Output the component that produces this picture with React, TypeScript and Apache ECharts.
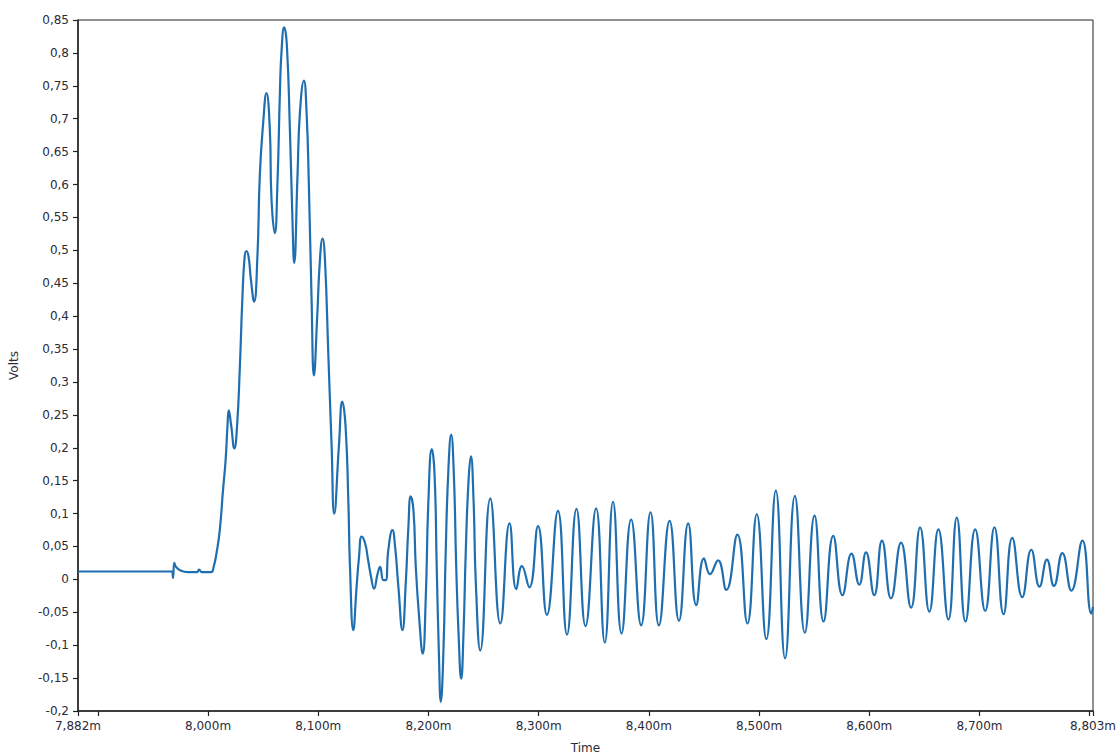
import React, { useEffect, useRef } from "react";
import * as echarts from "echarts";

// Time (m) sample positions
const timeValues: number[] = [
  7.882, 7.9673, 7.9682, 7.9694, 7.9709, 7.9755, 7.9818, 7.99, 7.9918, 7.9945,
  8.0027, 8.0052, 8.0077, 8.0106, 8.0136, 8.0159, 8.0177, 8.0188, 8.0209, 8.0239,
  8.0264, 8.0288, 8.0312, 8.0332, 8.0348, 8.0368, 8.0388, 8.0418, 8.0448, 8.047,
  8.05, 8.053, 8.0561, 8.0575, 8.0606, 8.063, 8.0652, 8.0666, 8.0691, 8.0715,
  8.0743, 8.0764, 8.0782, 8.0812, 8.0834, 8.087, 8.0894, 8.0915, 8.0939, 8.0961,
  8.0991, 8.1015, 8.1039, 8.1061, 8.1091, 8.1121, 8.1145, 8.1188, 8.1218, 8.1248,
  8.1273, 8.1288, 8.1318, 8.1348, 8.137, 8.1394, 8.1425, 8.1448, 8.1479, 8.1506,
  8.1539, 8.1561, 8.1591, 8.1612, 8.1636, 8.1673, 8.1697, 8.1727, 8.1764, 8.1794,
  8.1818, 8.1839, 8.1864, 8.1885, 8.1915, 8.1948, 8.1975, 8.2, 8.203, 8.2055,
  8.2075, 8.2094, 8.2112, 8.2136, 8.2157, 8.2182, 8.2206, 8.223, 8.2252, 8.2273,
  8.2297, 8.2318, 8.2339, 8.2364, 8.2385, 8.2409, 8.243, 8.247,
  8.2561, 8.2652, 8.2736, 8.2797, 8.2848, 8.2915, 8.2994, 8.3075, 8.3175, 8.3257,
  8.3343, 8.3425, 8.3521, 8.36, 8.3675, 8.3752, 8.3839, 8.393, 8.4015, 8.4091,
  8.4188, 8.4273, 8.4357, 8.443, 8.45, 8.4555, 8.4627, 8.4703, 8.4803, 8.4894,
  8.4979, 8.5066, 8.5152, 8.5236, 8.5325, 8.5415, 8.5503, 8.5585, 8.5673, 8.5757,
  8.5839, 8.5909, 8.597, 8.6045, 8.6115, 8.6197, 8.6288, 8.6379, 8.6461, 8.6545,
  8.6627, 8.6718, 8.6794, 8.6873, 8.6961, 8.7052, 8.7136, 8.7218, 8.7297, 8.7388,
  8.747, 8.7545, 8.7612, 8.7675, 8.7752, 8.7834, 8.7934, 8.8015, 8.803,
];

// Volts at each time
const voltValues: number[] = [
  0.012, 0.012, 0.002, 0.025, 0.019, 0.013, 0.011, 0.011, 0.015, 0.011,
  0.011, 0.02, 0.04, 0.074, 0.136, 0.18, 0.235, 0.257, 0.235, 0.199,
  0.235, 0.32, 0.429, 0.49, 0.499, 0.49, 0.457, 0.422, 0.491, 0.615,
  0.693, 0.739, 0.682, 0.581, 0.526, 0.603, 0.739, 0.8, 0.839, 0.812,
  0.682, 0.558, 0.481, 0.615, 0.71, 0.758, 0.71, 0.598, 0.429, 0.31,
  0.401, 0.485, 0.518, 0.485, 0.344, 0.204, 0.1, 0.204, 0.27, 0.232,
  0.119, 0.019, -0.077, -0.011, 0.034, 0.065, 0.055, 0.034, 0.004, -0.014,
  0.009, 0.019, -0.001, -0.001, 0.045, 0.075, 0.05, -0.011, -0.077, -0.006,
  0.08, 0.126, 0.105, 0.019, -0.057, -0.113, -0.031, 0.121, 0.198, 0.161,
  0.019, -0.108, -0.186, -0.108, 0.045, 0.171, 0.22, 0.161, 0.019, -0.082,
  -0.151, -0.082, 0.045, 0.151, 0.187, 0.121, -0.006, -0.108,
  0.123, -0.067, 0.085, -0.015, 0.02, -0.012, 0.081, -0.054, 0.104, -0.084,
  0.107, -0.071, 0.108, -0.096, 0.118, -0.082, 0.091, -0.07, 0.102, -0.07,
  0.089, -0.063, 0.085, -0.039, 0.032, 0.008, 0.029, -0.016, 0.068, -0.067,
  0.099, -0.091, 0.135, -0.12, 0.127, -0.081, 0.097, -0.064, 0.066, -0.024,
  0.039, -0.008, 0.041, -0.024, 0.059, -0.029, 0.056, -0.043, 0.079, -0.049,
  0.076, -0.061, 0.094, -0.064, 0.076, -0.048, 0.079, -0.053, 0.063, -0.027,
  0.045, -0.011, 0.03, -0.01, 0.04, -0.017, 0.059, -0.052, -0.042,
];

const xTickValues: number[] = [7.882, 7.9, 8.0, 8.1, 8.2, 8.3, 8.4, 8.5, 8.6, 8.7, 8.8, 8.803];
const xLabelValues: number[] = [7.882, 8.0, 8.1, 8.2, 8.3, 8.4, 8.5, 8.6, 8.7, 8.803];

const X_MIN = 7.882;
const X_MAX = 8.803;
const Y_MIN = -0.2;
const Y_MAX = 0.85;
const Y_STEP = 0.05;

const FONT = "DejaVu Sans";
const TEXT_COLOR = "#2b2b3a";

export default function App() {
  const ref = useRef<HTMLDivElement>(null);

  useEffect(() => {
    if (!ref.current) return;
    const chart = echarts.init(ref.current, undefined, { renderer: "svg" });
    const data = timeValues.map((t, i) => [t, voltValues[i]]);

    chart.setOption({
      animation: false,
      backgroundColor: "#ffffff",
      grid: {
        left: 78,
        right: 26,
        top: 20,
        bottom: 44,
        outerBoundsMode: "none",
        containLabel: false,
        show: true,
        borderColor: "#222",
        borderWidth: 1,
        backgroundColor: "transparent",
      },
      xAxis: {
        type: "value",
        min: X_MIN,
        max: X_MAX,
        name: "Time",
        nameLocation: "middle",
        nameGap: 31,
        nameTextStyle: { fontFamily: FONT, fontSize: 12, color: TEXT_COLOR },
        splitLine: { show: false },
        axisLine: { show: true, onZero: false, lineStyle: { color: "#222", width: 1.5 } },
        axisTick: {
          show: true,
          length: 5,
          customValues: xTickValues,
          lineStyle: { color: "#222", width: 1.2 },
        },
        axisLabel: {
          customValues: xLabelValues,
          fontFamily: FONT,
          fontSize: 12,
          color: TEXT_COLOR,
          margin: 9,
          formatter: (v: number) => v.toFixed(3).replace(".", ",") + "m",
        },
      },
      yAxis: {
        type: "value",
        min: Y_MIN,
        max: Y_MAX,
        interval: Y_STEP,
        name: "Volts",
        nameLocation: "middle",
        nameRotate: 90,
        nameGap: 58,
        nameTextStyle: { fontFamily: FONT, fontSize: 12, color: TEXT_COLOR },
        splitLine: { show: false },
        axisLine: { show: true, onZero: false, lineStyle: { color: "#222", width: 1.5 } },
        axisTick: { show: true, length: 5, lineStyle: { color: "#222", width: 1.2 } },
        axisLabel: {
          fontFamily: FONT,
          fontSize: 12,
          color: TEXT_COLOR,
          margin: 9,
          formatter: (v: number) => String(Math.round(v * 100) / 100).replace(".", ","),
        },
      },
      series: [
        {
          type: "line",
          data,
          smooth: 0.5,
          showSymbol: false,
          symbol: "none",
          clip: true,
          lineStyle: { color: "#1f6fb0", width: 2.2 },
        },
      ],
    });

    return () => chart.dispose();
  }, []);

  return <div ref={ref} style={{ width: 1119, height: 755, position: "absolute", left: 0, top: 0 }} />;
}
